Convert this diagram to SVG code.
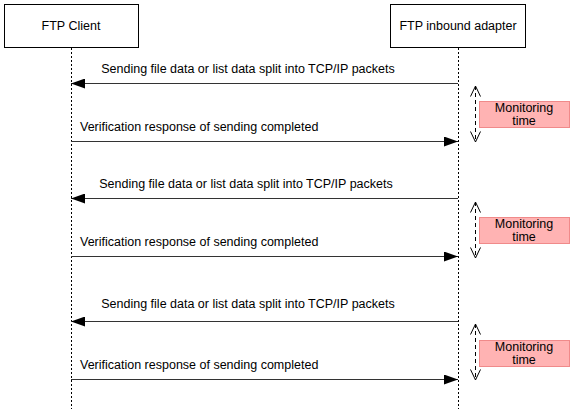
<svg xmlns="http://www.w3.org/2000/svg" width="573" height="409" viewBox="0 0 573 409">
<style>
text{font-family:"Liberation Sans",Arial,sans-serif;font-size:12.5px;fill:#000}
.box{fill:#fff;stroke:#000;stroke-width:1}
.life{stroke:#000;stroke-width:1;stroke-dasharray:2,2;fill:none}
.msg{stroke:#333;stroke-width:1.2;fill:none}
.mon{stroke:#000;stroke-width:1;stroke-dasharray:4,3;fill:none}
.pink{fill:#ffb3b3;stroke:#f08a8a;stroke-width:1}
</style>
<defs>
<marker id="ah" markerWidth="16" markerHeight="10" refX="14" refY="5" orient="auto" markerUnits="userSpaceOnUse">
<path d="M0,0 L14,5 L0,10 Z" fill="#000"/>
</marker>
<marker id="oa" markerWidth="14" markerHeight="12" refX="11" refY="5.5" orient="auto-start-reverse" markerUnits="userSpaceOnUse">
<path d="M0.5,0.5 L11,5.5 L0.5,10.5" fill="none" stroke="#000" stroke-width="1"/>
</marker>
</defs>
<g id="client">
<rect class="box" x="4.5" y="4.5" width="134" height="43"/>
<text x="71" y="30" text-anchor="middle">FTP Client</text>
</g>
<g id="adapter">
<rect class="box" x="390.5" y="4.5" width="135" height="43"/>
<text x="458" y="30" text-anchor="middle">FTP inbound adapter</text>
</g>
<g id="lifelines">
<line class="life" x1="71.5" y1="48" x2="71.5" y2="409"/>
<line class="life" x1="458.5" y1="48" x2="458.5" y2="409"/>
</g>
<g id="connectors">
<line class="msg" x1="458" y1="83.5" x2="71" y2="83.5" marker-end="url(#ah)"/>
<line class="msg" x1="71" y1="141.5" x2="458" y2="141.5" marker-end="url(#ah)"/>
<line class="msg" x1="458" y1="198.5" x2="71" y2="198.5" marker-end="url(#ah)"/>
<line class="msg" x1="71" y1="256.5" x2="458" y2="256.5" marker-end="url(#ah)"/>
<line class="msg" x1="458" y1="321.5" x2="71" y2="321.5" marker-end="url(#ah)"/>
<line class="msg" x1="71" y1="379.5" x2="458" y2="379.5" marker-end="url(#ah)"/>
<line class="mon" x1="475.5" y1="86" x2="475.5" y2="142" marker-start="url(#oa)" marker-end="url(#oa)"/>
<line class="mon" x1="475.5" y1="202" x2="475.5" y2="258" marker-start="url(#oa)" marker-end="url(#oa)"/>
<line class="mon" x1="475.5" y1="324" x2="475.5" y2="380" marker-start="url(#oa)" marker-end="url(#oa)"/>
</g>
<g id="labels">
<text x="248" y="73" text-anchor="middle">Sending file data or list data split into TCP/IP packets</text>
<text x="80" y="131">Verification response of sending completed</text>
<text x="246" y="188" text-anchor="middle">Sending file data or list data split into TCP/IP packets</text>
<text x="80" y="246">Verification response of sending completed</text>
<text x="248" y="308" text-anchor="middle">Sending file data or list data split into TCP/IP packets</text>
<text x="80" y="369">Verification response of sending completed</text>
</g>
<g id="monitor1">
<rect class="pink" x="479.5" y="101.5" width="90" height="26"/>
<text x="524" y="112" text-anchor="middle">Monitoring</text>
<text x="524" y="125" text-anchor="middle">time</text>
</g>
<g id="monitor2">
<rect class="pink" x="479.5" y="217.5" width="90" height="26"/>
<text x="524" y="228" text-anchor="middle">Monitoring</text>
<text x="524" y="241" text-anchor="middle">time</text>
</g>
<g id="monitor3">
<rect class="pink" x="479.5" y="340.5" width="90" height="26"/>
<text x="524" y="351" text-anchor="middle">Monitoring</text>
<text x="524" y="364" text-anchor="middle">time</text>
</g>
</svg>
